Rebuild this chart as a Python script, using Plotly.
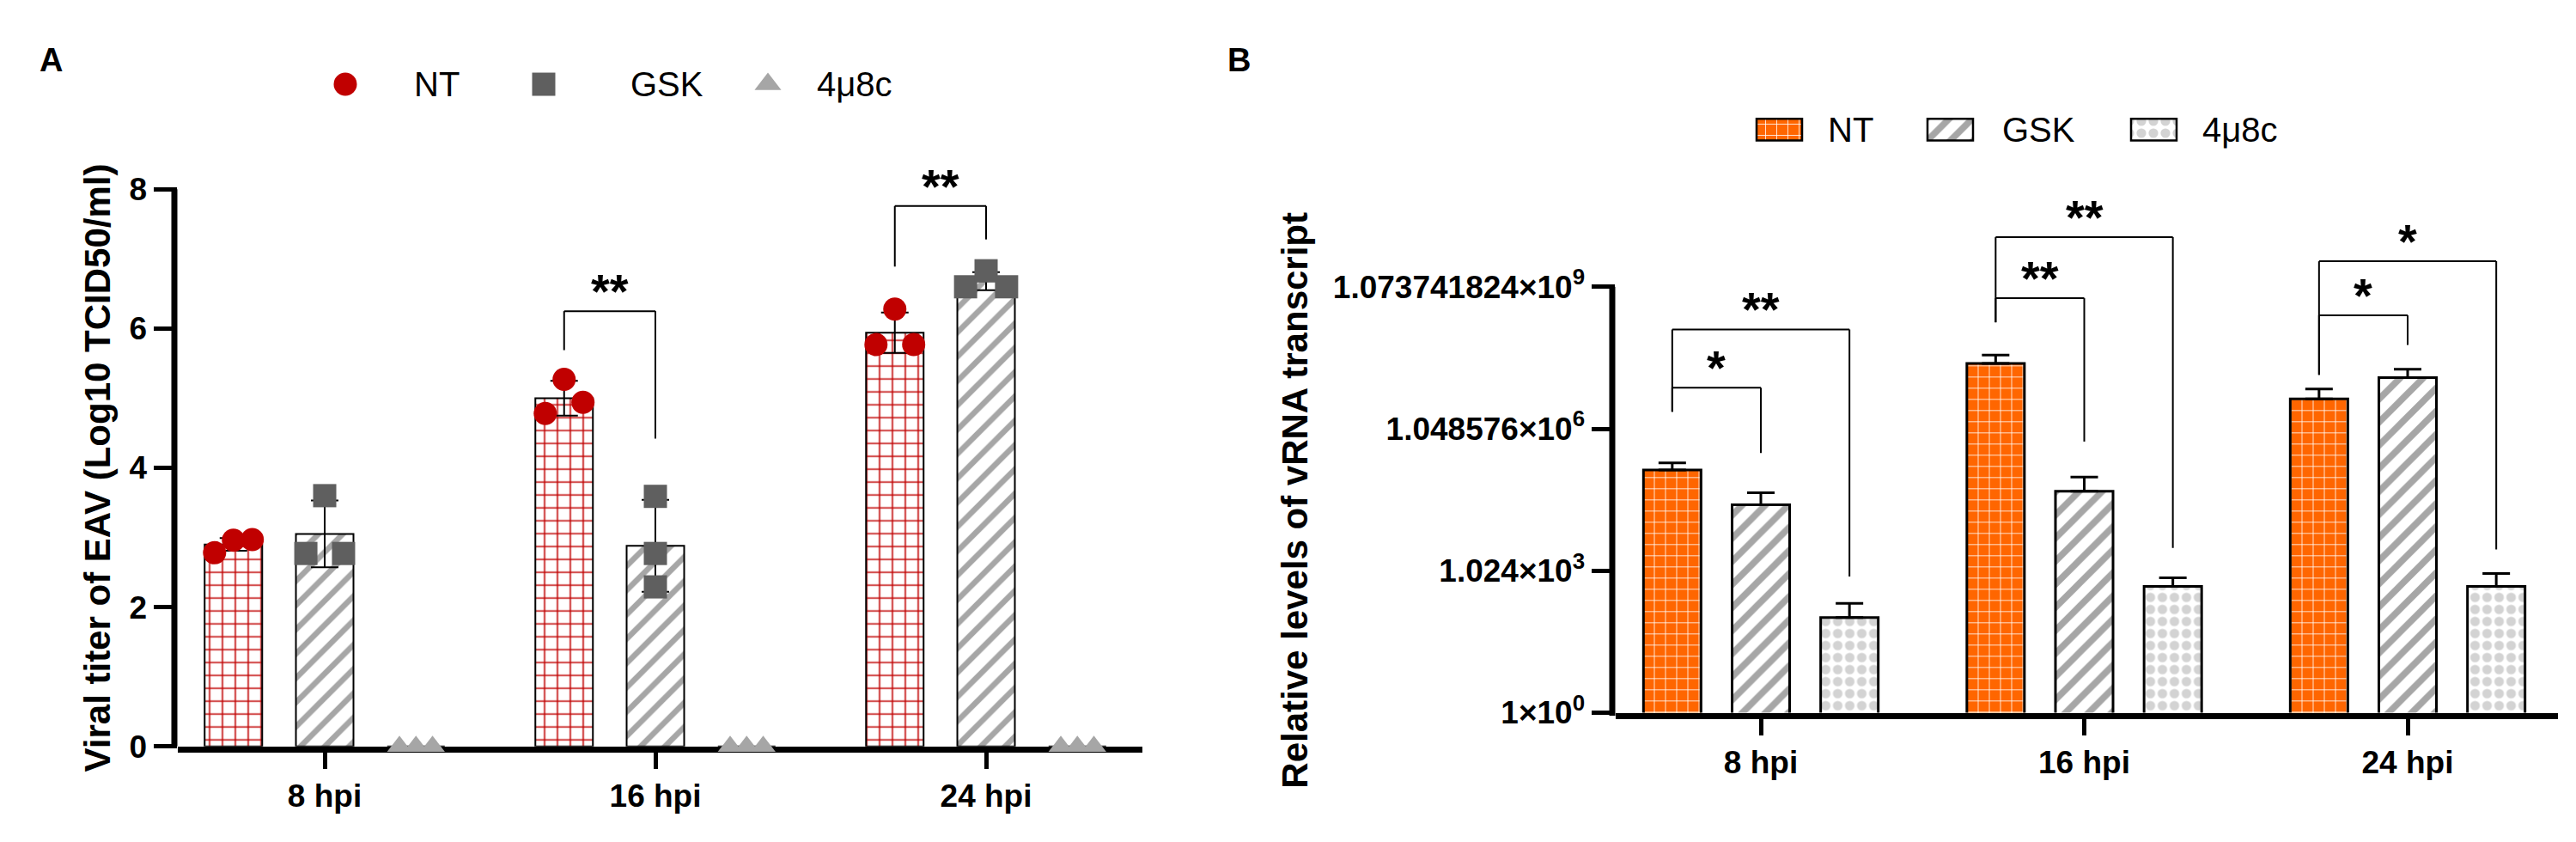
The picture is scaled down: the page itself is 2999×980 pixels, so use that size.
import math
import plotly.graph_objects as go

# ---------------- data ----------------
groups = ["8 hpi", "16 hpi", "24 hpi"]
series = ["NT", "GSK", "4μ8c"]

# panel A: viral titer of EAV (log10 TCID50/ml)
titer_nt = [2.90, 5.00, 5.94]
titer_gsk = [3.05, 2.88, 6.68]
titer_4u8c = [0, 0, 0]
titer_nt_sd = [0.09, 0.25, 0.29]
titer_gsk_sd = [0.48, 0.66, 0.13]
# replicates per time point (left / middle / right dot)
titer_nt_pts = [[2.78, 2.96, 2.97], [4.78, 5.27, 4.94], [5.77, 6.28, 5.77]]
titer_gsk_pts = [[2.77, 3.60, 2.77], [2.29, 3.59, 2.77], [6.60, 6.83, 6.60]]
titer_4u8c_pts = [[0, 0, 0], [0, 0, 0], [0, 0, 0]]
titer_ticks = [0, 2, 4, 6, 8]

# panel B: relative levels of vRNA transcript
vrna_nt = [140000, 25400000, 4500000]
vrna_gsk = [25700, 49700, 12700000]
vrna_4u8c = [104, 478, 478]
vrna_nt_err = [59000, 13100000, 2800000]
vrna_gsk_err = [20600, 49600, 6560000]
vrna_4u8c_err = [104, 246, 413]
vrna_ticks = [1, 1024, 1048576, 1073741824]
vrna_ticktext = ["1×10<sup>0</sup>", "1.024×10<sup>3</sup>",
                 "1.048576×10<sup>6</sup>", "1.073741824×10<sup>9</sup>"]

# significance brackets: (group, bar a, bar b, top, end a, end b, label)
brackets_a = [(1, 0, 1, 6.25, 5.69, 4.42, "**"),
              (2, 0, 1, 7.76, 6.89, 7.28, "**")]
# panel B levels as log2 exponents
brackets_b = [(0, 0, 1, 22.9, 21.2, 18.3, "*"),
              (0, 0, 2, 27.0, 21.2, 9.6, "**"),
              (1, 0, 1, 29.2, 27.5, 19.1, "**"),
              (1, 0, 2, 33.5, 27.5, 11.6, "**"),
              (2, 0, 1, 28.0, 23.8, 25.9, "*"),
              (2, 0, 2, 31.8, 23.8, 11.5, "*")]

# ---------------- style ----------------
W, H = 2999, 980
FONT = "Arial, Liberation Sans, sans-serif"
RED = "#C00000"
DGRAY = "#5F5F5F"
LGRAY = "#A6A6A6"
ORANGE = "#FF6600"


def px(x):
    return x / W


def py(y):
    return 1 - y / H


off_a = [-0.276, 0, 0.276]
bw_a = 0.174
off_b = [-0.274, 0, 0.274]
bw_b = 0.178
spread = [[0.057, 0.057, 0.057], [0.057, 0, 0.062], [0.05, 0.05, 0.05]]

pat_nt_a = dict(shape="+", fgcolor=RED, bgcolor="white", size=15, solidity=0.2, fillmode="replace")
pat_gsk_a = dict(shape="/", fgcolor=LGRAY, bgcolor="white", size=20, solidity=0.33, fillmode="replace")
pat_nt_b = dict(shape="+", fgcolor="white", bgcolor=ORANGE, size=13, solidity=0.12, fillmode="replace")
pat_gsk_b = dict(shape="/", fgcolor=LGRAY, bgcolor="white", size=19, solidity=0.4, fillmode="replace")
pat_4u8c_b = dict(shape=".", fgcolor="#D3D3D3", bgcolor="white", size=14, solidity=0.5, fillmode="replace")

fig = go.Figure()

# ---------------- panel A ----------------
a_means = [titer_nt, titer_gsk, titer_4u8c]
a_sds = [titer_nt_sd, titer_gsk_sd, None]
a_pats = [pat_nt_a, pat_gsk_a, None]
for k in range(3):
    mk = dict(color="white", line=dict(color="black", width=2))
    if a_pats[k]:
        mk["pattern"] = a_pats[k]
    err = dict(visible=False)
    if a_sds[k]:
        err = dict(type="data", array=a_sds[k], color="black", thickness=2, width=16)
    fig.add_trace(go.Bar(
        x=[i + off_a[k] for i in range(3)], y=a_means[k], width=bw_a,
        marker=mk, error_y=err, showlegend=False, xaxis="x", yaxis="y"))

a_pts = [titer_nt_pts, titer_gsk_pts, titer_4u8c_pts]
a_sym = ["circle", "square", "triangle-up"]
a_col = [RED, DGRAY, LGRAY]
a_size = [27, 27, 25]
for k in range(3):
    xs, ys = [], []
    for i in range(3):
        s = spread[k][i] if k != 1 or i != 1 else 0
        for j, v in enumerate(a_pts[k][i]):
            xs.append(i + off_a[k] + (j - 1) * s)
            ys.append(v)
    fig.add_trace(go.Scatter(
        x=xs, y=ys, mode="markers", cliponaxis=False, showlegend=False,
        marker=dict(symbol=a_sym[k], color=a_col[k], size=a_size[k], line=dict(width=0)),
        xaxis="x", yaxis="y"))

# ---------------- panel B ----------------
b_vals = [vrna_nt, vrna_gsk, vrna_4u8c]
b_errs = [vrna_nt_err, vrna_gsk_err, vrna_4u8c_err]
b_pats = [pat_nt_b, pat_gsk_b, pat_4u8c_b]
b_cols = [ORANGE, "white", "white"]
for k in range(3):
    fig.add_trace(go.Bar(
        x=[i + off_b[k] for i in range(3)], y=b_vals[k], width=bw_b,
        marker=dict(color=b_cols[k], pattern=b_pats[k], line=dict(color="black", width=3)),
        error_y=dict(type="data", symmetric=False, array=b_errs[k], arrayminus=[0, 0, 0],
                     color="black", thickness=3, width=16),
        showlegend=False, xaxis="x2", yaxis="y2"))

# ---------------- legends (drawn on a pixel helper axis) ----------------
leg_a_x = [394, 625, 886]
leg_a_text_x = [472, 724, 941]
leg_a_y = 92
fig.add_trace(go.Scatter(
    x=leg_a_x, y=[leg_a_y] * 3, mode="markers", showlegend=False, cliponaxis=False,
    marker=dict(symbol=a_sym, color=a_col, size=27, line=dict(width=0)),
    xaxis="x3", yaxis="y3"))

leg_b_x = [2063.5, 2262.5, 2499.5]
leg_b_text_x = [2118, 2321, 2554]
leg_b_y = 146
for k in range(3):
    fig.add_trace(go.Bar(
        x=[leg_b_x[k]], y=[-26], base=[leg_b_y + 13], width=53,
        marker=dict(color=b_cols[k], pattern=b_pats[k], line=dict(color="black", width=2.5)),
        showlegend=False, xaxis="x3", yaxis="y3"))

annotations = []
for k in range(3):
    annotations.append(dict(x=leg_a_text_x[k], y=leg_a_y, xref="x3", yref="y3", text=series[k],
                            xanchor="left", yanchor="middle", showarrow=False,
                            font=dict(family=FONT, size=40, color="black")))
    annotations.append(dict(x=leg_b_text_x[k], y=leg_b_y, xref="x3", yref="y3", text=series[k],
                            xanchor="left", yanchor="middle", showarrow=False,
                            font=dict(family=FONT, size=40, color="black")))

# ---------------- brackets ----------------
shapes = []


def bracket(xr, yr, g, a, b, top, ea, eb, label, offs, to_shape, to_note):
    xa, xb = g + offs[a], g + offs[b]
    ln = dict(color="black", width=2)
    for x0, y0, x1, y1 in [(xa, ea, xa, top), (xa, top, xb, top), (xb, top, xb, eb)]:
        shapes.append(dict(type="line", xref=xr, yref=yr, x0=x0, x1=x1,
                           y0=to_shape(y0), y1=to_shape(y1), line=ln))
    annotations.append(dict(x=(xa + xb) / 2, y=to_note(top), xref=xr, yref=yr, text=label,
                            showarrow=False, xanchor="center", yanchor="bottom", yshift=-10,
                            font=dict(family=FONT, size=56, color="black", weight="bold")))


for br in brackets_a:
    bracket("x", "y", *br, off_a, lambda v: v, lambda v: v)
for br in brackets_b:
    # shapes take data values on a log axis, annotations take log10 positions
    bracket("x2", "y2", *br, off_b, lambda e: 2 ** e, lambda e: e * math.log10(2))

# y axis lines (kept to the labelled range, not the padded one)
shapes.append(dict(type="line", xref="paper", yref="y", x0=px(195), x1=px(195), y0=0, y1=8,
                   line=dict(color="black", width=7)))
shapes.append(dict(type="line", xref="paper", yref="paper", x0=px(1869), x1=px(1869),
                   y0=py(843), y1=py(333), line=dict(color="black", width=7)))

# axis titles and panel letters
annotations.append(dict(x=px(105), y=4, xref="paper", yref="y", textangle=-90, showarrow=False,
                        text="Viral titer of EAV (Log10 TCID50/ml)", xanchor="center", yanchor="middle",
                        font=dict(family=FONT, size=42, color="black", weight="bold")))
annotations.append(dict(x=px(1500), y=15 * math.log10(2), xref="paper", yref="y2", textangle=-90,
                        showarrow=False, text="Relative levels of vRNA transcript",
                        xanchor="center", yanchor="middle",
                        font=dict(family=FONT, size=42, color="black", weight="bold")))
annotations.append(dict(x=px(36), y=py(40), xref="paper", yref="paper", text="A", showarrow=False,
                        font=dict(family=FONT, size=38, color="black", weight="bold")))
annotations.append(dict(x=px(1434), y=py(40), xref="paper", yref="paper", text="B", showarrow=False,
                        font=dict(family=FONT, size=38, color="black", weight="bold")))

tickfont = dict(family=FONT, size=37, color="black", weight="bold")
xcommon = dict(tickvals=[0, 1, 2], ticktext=groups, showline=True, linewidth=7, linecolor="black",
               ticks="outside", ticklen=19, tickwidth=5, tickcolor="black", tickfont=tickfont,
               showgrid=False, zeroline=False, layer="below traces", fixedrange=True)
ycommon = dict(showline=False, ticks="outside", ticklen=27, tickwidth=5, tickcolor="black",
               showgrid=False, zeroline=False, fixedrange=True)

fig.update_layout(
    width=W, height=H,
    margin=dict(l=0, r=0, t=0, b=0),
    paper_bgcolor="white", plot_bgcolor="rgba(0,0,0,0)",
    barmode="overlay", showlegend=False,
    font=dict(family=FONT, color="black"),
    xaxis=dict(domain=[px(198.5), px(1322)], range=[-0.4455, 2.4727], anchor="y", **xcommon),
    yaxis=dict(domain=[py(879.5), py(159)], range=[0, 8.7], anchor="x", tickvals=titer_ticks,
               tickfont=tickfont, **ycommon),
    xaxis2=dict(domain=[px(1872.5), px(2970)], range=[-0.4502, 2.4648], anchor="y2", **xcommon),
    yaxis2=dict(domain=[py(839.5), py(194.5)], type="log", range=[0, 11.5], anchor="x2",
                tickvals=vrna_ticks, ticktext=vrna_ticktext,
                tickfont=dict(family=FONT, size=37, color="black", weight="bold"), **ycommon),
    xaxis3=dict(domain=[0, 1], range=[0, W], anchor="y3", visible=False, fixedrange=True),
    yaxis3=dict(domain=[0, 1], range=[H, 0], anchor="x3", visible=False, fixedrange=True),
    shapes=shapes,
    annotations=annotations,
)

fig.write_html("out.html", config={"displayModeBar": False})
